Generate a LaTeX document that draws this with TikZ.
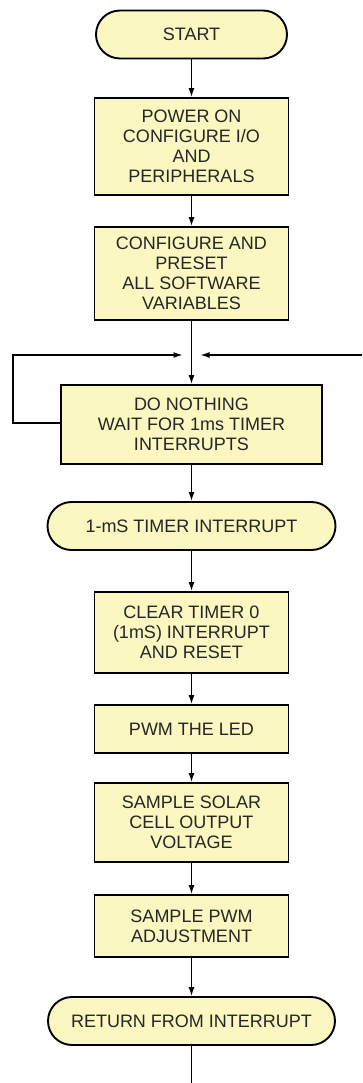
\documentclass[tikz,border=0pt]{standalone}
\usepackage{fontspec}
\setmainfont{Liberation Sans}
\usetikzlibrary{positioning,arrows.meta}
\definecolor{boxfill}{RGB}{250,247,192}

\begin{document}
\begin{tikzpicture}[
                    x=1pt, y=1pt,
                    every node/.style={
                        draw,
                        fill=boxfill,
                        line width=1.9pt,
                        align=center,
                        inner sep=0pt,
                        text=black!85,
                        font=\fontsize{18}{20}\selectfont
                    },
                    procbox/.style={minimum width=194pt},
                    termbox/.style={rounded corners=24pt, minimum height=48pt},
                    flow/.style={line width=1.3pt, -{Latex[length=9pt,width=6pt]}}
                ]
                    \useasboundingbox (0,0) rectangle (362,-1083);

                    \node[termbox, minimum width=191pt] (start) at (191.5,-34.5) {START};
                    \node[procbox, minimum height=97pt] (power) [below of=start, node distance=112pt] {POWER ON\\CONFIGURE I/O\\AND\\PERIPHERALS};
                    \node[procbox, minimum height=93pt] (preset) [below of=power, node distance=127pt] {CONFIGURE AND\\PRESET\\ALL SOFTWARE\\VARIABLES};
                    \node[minimum width=261pt, minimum height=79pt] (idle) [below of=preset, node distance=151pt] {DO NOTHING\\WAIT FOR 1ms TIMER\\INTERRUPTS};
                    \node[termbox, minimum width=288pt] (isr) [below of=idle, node distance=101.5pt] {1-mS TIMER INTERRUPT};
                    \node[procbox, minimum height=81pt] (clear) [below of=isr, node distance=106.5pt] {CLEAR TIMER 0\\(1mS) INTERRUPT\\AND RESET};
                    \node[procbox, minimum height=48pt] (pwm) [below of=clear, node distance=96.5pt] {PWM THE LED};
                    \node[procbox, minimum height=79pt] (solar) [below of=pwm, node distance=93.5pt] {SAMPLE SOLAR\\CELL OUTPUT\\VOLTAGE};
                    \node[procbox, minimum height=62pt] (adjust) [below of=solar, node distance=103.5pt] {SAMPLE PWM\\ADJUSTMENT};
                    \node[termbox, minimum width=287pt] (ret) [below of=adjust, node distance=95pt] {RETURN FROM INTERRUPT};

                    % loop points
                    \coordinate (join) at (191.5,-355);
                    \coordinate (loopl) at (13,-355);
                    \coordinate (loopr) at (362,-355);
                    \coordinate (exit) at (191.5,-1083);

                    % Edges
                    \draw[flow] (start) -- (power);
                    \draw[flow] (power) -- (preset);
                    \draw[flow] (preset) -- (idle);
                    \draw[flow] (idle) -- (isr);
                    \draw[flow] (isr) -- (clear);
                    \draw[flow] (clear) -- (pwm);
                    \draw[flow] (pwm) -- (solar);
                    \draw[flow] (solar) -- (adjust);
                    \draw[flow] (adjust) -- (ret);
                    \draw[line width=1.3pt] (ret) -- (exit);
                    \draw[flow] (idle.west |- 0,-423) -| (loopl) -- ([xshift=-9pt]join);
                    \draw[flow] (loopr) -- ([xshift=9pt]join);
                \end{tikzpicture}
\end{document}
